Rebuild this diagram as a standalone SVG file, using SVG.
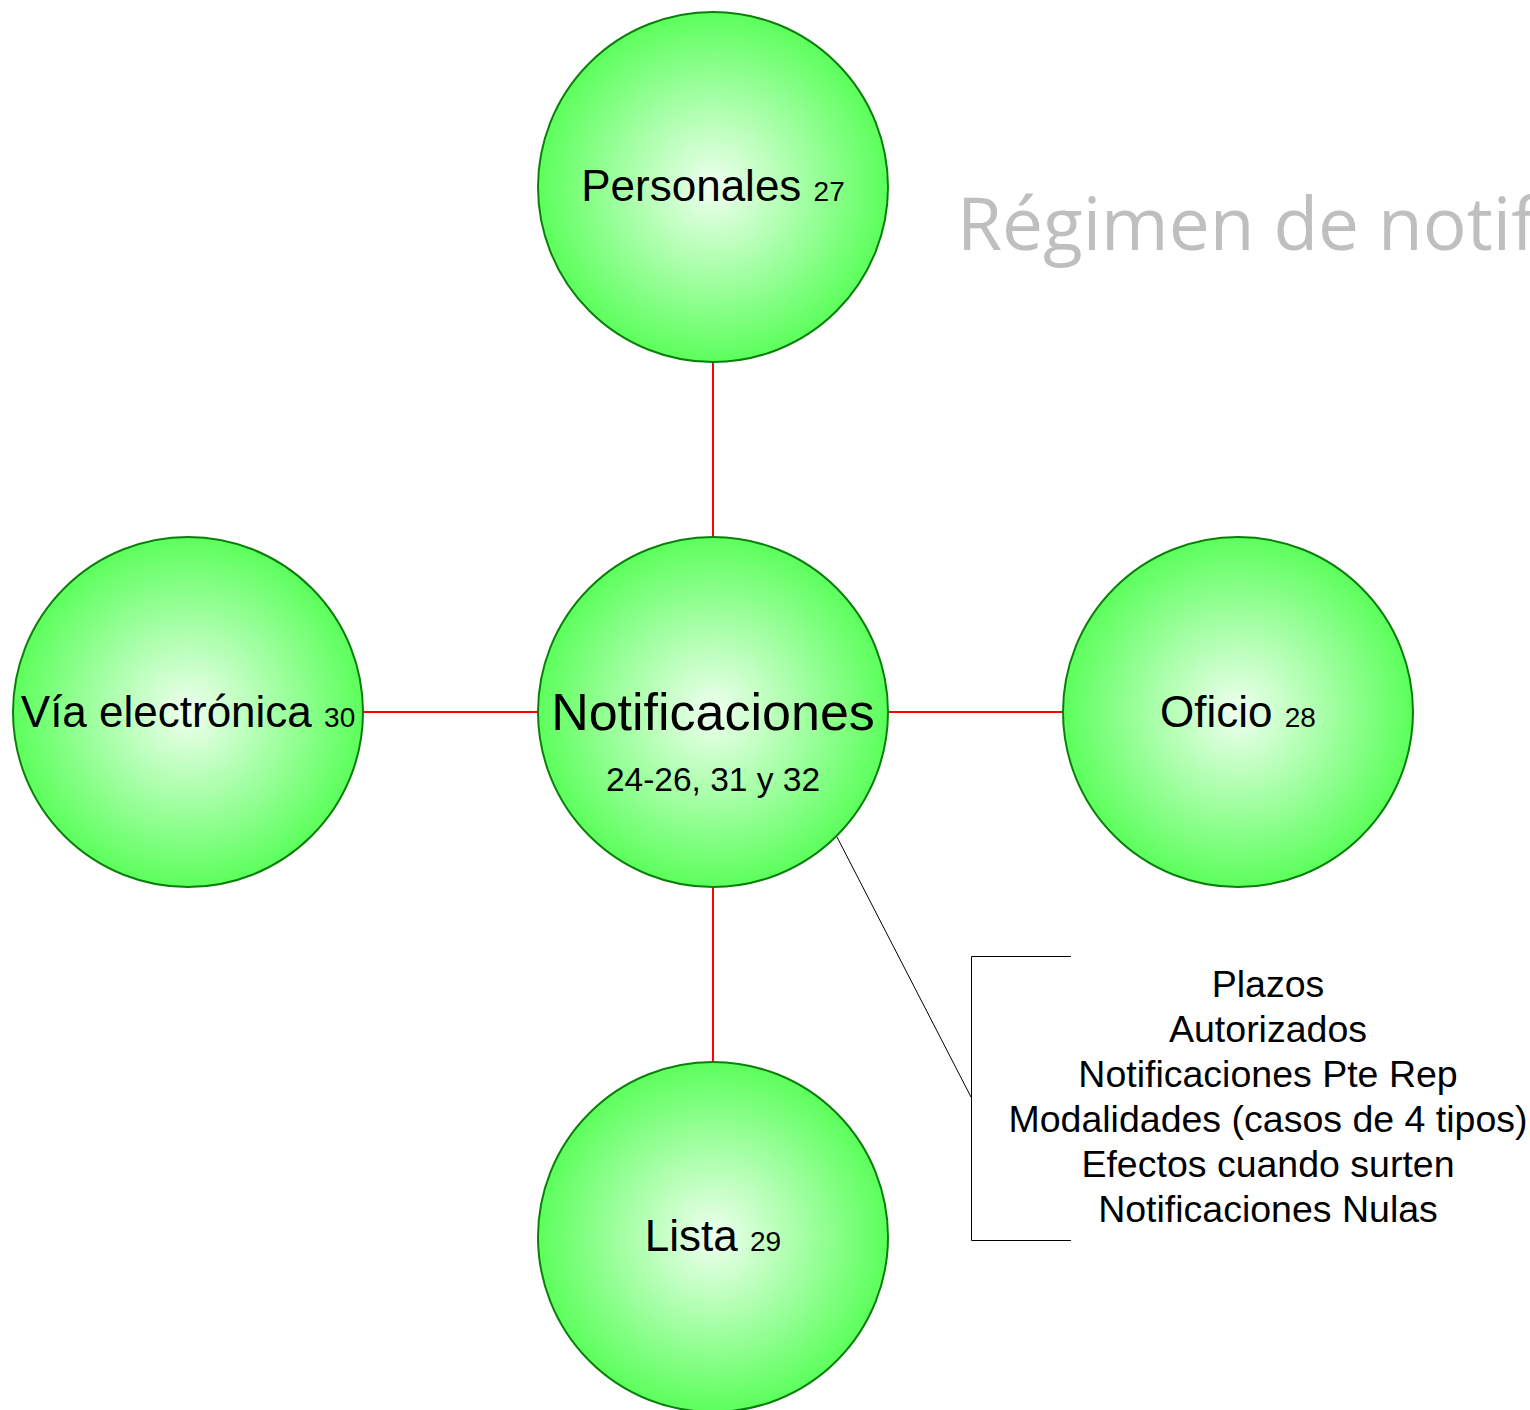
<svg xmlns="http://www.w3.org/2000/svg" width="1530" height="1410" viewBox="0 0 1530 1410">
<defs>
<radialGradient id="g" cx="50%" cy="50%" r="50%">
<stop offset="0" stop-color="#f0fff0"/>
<stop offset="1" stop-color="#5cff5c"/>
</radialGradient>
<style>
.n{fill:url(#g);stroke:#0a800a;stroke-width:2}
.t{font-family:"Liberation Sans",Arial,sans-serif;fill:#000;text-anchor:middle}
.l{font-family:"Liberation Sans",Arial,sans-serif;fill:#000;text-anchor:middle;font-size:37.5px}
.c{stroke:#ff0000;stroke-width:2;fill:none}
.k{stroke:#000;stroke-width:1;fill:none}
</style>
</defs>
<rect width="1530" height="1410" fill="#fff"/>
<text x="957" y="250" font-family="'Open Sans','Noto Sans',sans-serif" font-size="73" fill="#bfbfbf">Régimen de notificaciones</text>
<g id="connectors">
<line class="c" x1="713" y1="362" x2="713" y2="537"/>
<line class="c" x1="363" y1="712" x2="538" y2="712"/>
<line class="c" x1="888" y1="712" x2="1063" y2="712"/>
<line class="c" x1="713" y1="887" x2="713" y2="1062"/>
<line class="k" x1="837" y1="837" x2="971" y2="1097"/>
<path class="k" d="M1071,956.5 H971.5 V1240.5 H1071"/>
</g>
<g id="personales">
<circle class="n" cx="713" cy="187" r="175"/>
<text class="t" x="713" y="201" font-size="44">Personales <tspan font-size="28">27</tspan></text>
</g>
<g id="notificaciones">
<circle class="n" cx="713" cy="712" r="175"/>
<text class="t" x="713" y="730" font-size="52">Notificaciones</text>
<text class="t" x="713" y="791" font-size="33.5">24-26, 31 y 32</text>
</g>
<g id="via">
<circle class="n" cx="188" cy="712" r="175"/>
<text class="t" x="188" y="727" font-size="44">Vía electrónica <tspan font-size="28">30</tspan></text>
</g>
<g id="oficio">
<circle class="n" cx="1238" cy="712" r="175"/>
<text class="t" x="1238" y="727" font-size="44">Oficio <tspan font-size="28">28</tspan></text>
</g>
<g id="lista">
<circle class="n" cx="713" cy="1237" r="175"/>
<text class="t" x="713" y="1251" font-size="44">Lista <tspan font-size="28">29</tspan></text>
</g>
<g id="detalle">
<text class="l" x="1268" y="997">Plazos</text>
<text class="l" x="1268" y="1042">Autorizados</text>
<text class="l" x="1268" y="1087">Notificaciones Pte Rep</text>
<text class="l" x="1268" y="1132">Modalidades (casos de 4 tipos)</text>
<text class="l" x="1268" y="1177">Efectos cuando surten</text>
<text class="l" x="1268" y="1222">Notificaciones Nulas</text>
</g>
</svg>
